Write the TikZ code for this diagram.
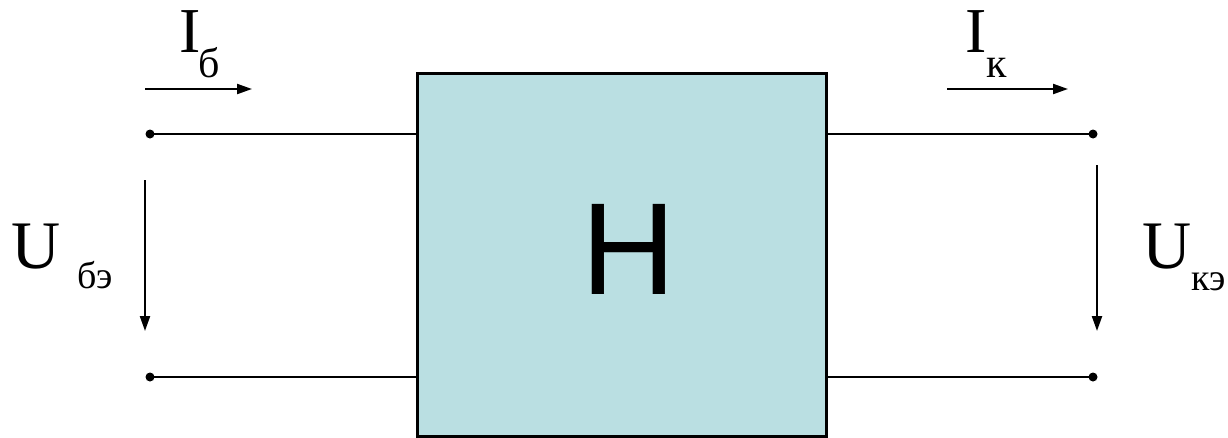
\documentclass[tikz,border=0pt]{standalone}
\usepackage{fontspec}
\setmainfont{Liberation Serif}
\newfontfamily\hsans{Liberation Sans}
\usetikzlibrary{arrows.meta}
\definecolor{boxfill}{RGB}{186,223,226}
\begin{document}
\begin{tikzpicture}[x=1pt,y=-1pt,
  wire/.style={line width=2.2pt},
  flow/.style={line width=2.2pt,-{Triangle[length=15pt,width=10pt]}},
  termdot/.style={circle,fill=black,inner sep=0pt,minimum size=9pt},
  big/.style={inner sep=0pt,anchor=base west,font=\fontsize{64}{64}\selectfont},
  bigU/.style={inner sep=0pt,anchor=base west,font=\fontsize{68}{68}\selectfont},
  subI/.style={inner sep=0pt,anchor=base west,font=\fontsize{42}{42}\selectfont},
  subU/.style={inner sep=0pt,anchor=base west,font=\fontsize{38}{38}\selectfont}]
\useasboundingbox (0,0) rectangle (1228,437);
% box
\node[draw,line width=3pt,fill=boxfill,minimum width=409pt,minimum height=363pt,inner sep=0pt] (H) at (621.5,254.5) {};
\node[inner sep=0pt,font=\hsans\fontsize{131}{131}\selectfont] (Hl) at (628.5,249.5) {H};
% terminals
\node[termdot] (t1) at (150,134) {};
\node[termdot] (t2) at (150,377) {};
\node[termdot] (t3) at (1093,134) {};
\node[termdot] (t4) at (1093,377) {};
\draw[wire] (t1.center) -- (H.west |- t1);
\draw[wire] (t2.center) -- (H.west |- t2);
\draw[wire] (t3.center) -- (H.east |- t3);
\draw[wire] (t4.center) -- (H.east |- t4);
% arrows
\coordinate (ib1) at (145,89); \coordinate (ib2) at (252,89);
\coordinate (ik1) at (947,89); \coordinate (ik2) at (1068,89);
\coordinate (ub1) at (145,180); \coordinate (ub2) at (145,331);
\coordinate (uk1) at (1097,165); \coordinate (uk2) at (1097,331);
\draw[flow] (ib1) -- (ib2);
\draw[flow] (ik1) -- (ik2);
\draw[flow] (ub1) -- (ub2);
\draw[flow] (uk1) -- (uk2);
% labels
\node[big] (lI1) at (179,52) {I};
\node[subI] (sI1) at (198,77) {б};
\node[big] (lI2) at (965,52) {I};
\node[subI] (sI2) at (986,77) {к};
\node[bigU] (lU1) at (11,268) {U};
\node[subU] (sU1) at (77,288) {бэ};
\node[bigU] (lU2) at (1142,268) {U};
\node[subU] (sU2) at (1191,290) {кэ};
\end{tikzpicture}
\end{document}
